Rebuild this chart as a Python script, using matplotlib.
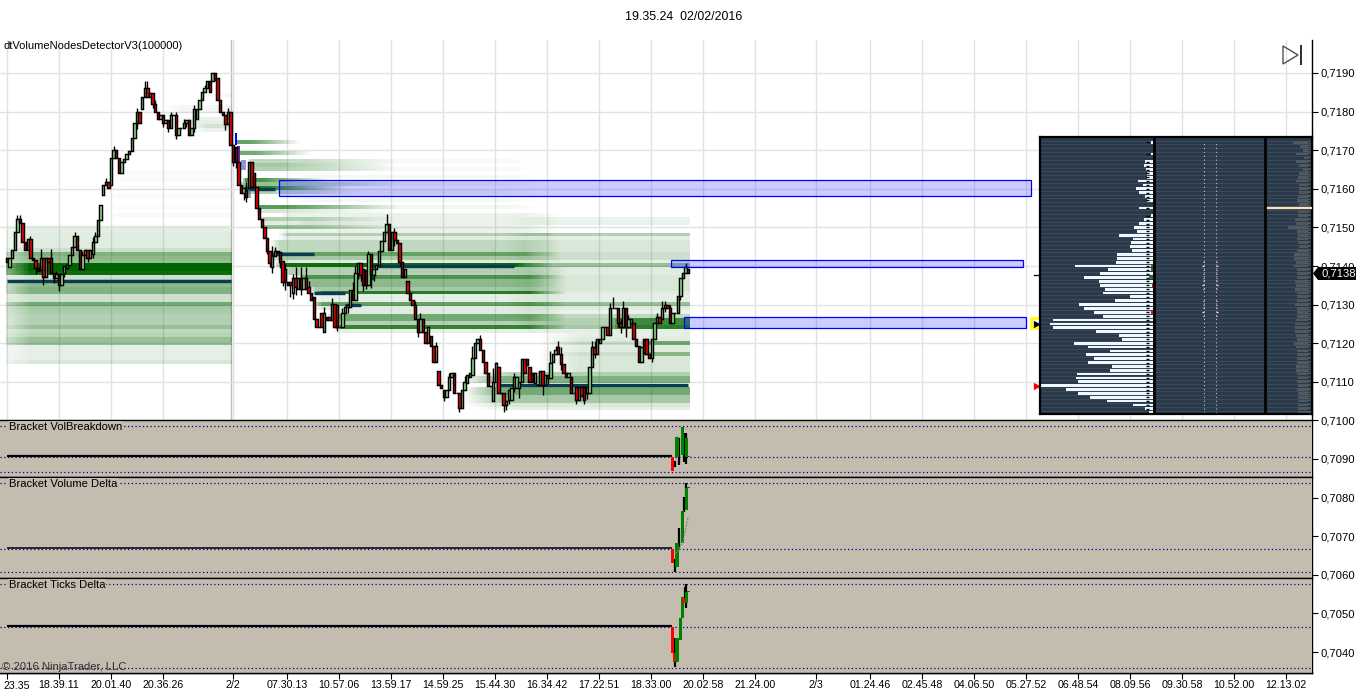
import numpy as np
import matplotlib
matplotlib.use("Agg")
import matplotlib.pyplot as plt
from matplotlib.patches import Polygon, Rectangle

plt.rcParams["font.family"] = ["Liberation Sans", "DejaVu Sans"]

W, H = 1366, 700

# candles, prices in pips (7138 = 0,7138)
opens = [
    7142.0, 7139.8, 7142.0, 7144.1, 7148.9, 7152.2, 7151.1, 7146.3, 7144.1, 7146.9,
    7142.0, 7141.6, 7139.4, 7138.9, 7142.0, 7137.2, 7142.0, 7142.0, 7138.1, 7137.0,
    7137.8, 7135.1, 7138.1, 7139.4, 7140.3, 7142.9, 7145.0, 7147.9, 7144.1, 7139.1,
    7142.9, 7144.1, 7142.0, 7143.0, 7146.1, 7147.9, 7151.9, 7158.4, 7161.0, 7161.8,
    7161.0, 7167.9, 7170.1, 7167.9, 7164.0, 7166.9, 7167.7, 7168.9, 7169.8, 7173.1,
    7177.0, 7180.0, 7180.8, 7183.9, 7186.0, 7183.9, 7184.7, 7181.9, 7180.0, 7178.0,
    7179.0, 7177.0, 7177.8, 7175.8, 7179.0, 7179.0, 7174.0, 7175.8, 7175.8, 7177.0,
    7177.8, 7174.0, 7175.8, 7178.0, 7180.8, 7183.0, 7185.0, 7186.0, 7187.8, 7187.8,
    7190.0, 7188.8, 7183.0, 7180.0, 7179.1, 7176.7, 7180.0, 7171.4, 7170.9, 7167.0,
    7161.0, 7159.0, 7159.7, 7160.1, 7167.0, 7164.0, 7160.4, 7155.0, 7152.1, 7150.2,
    7147.2, 7144.0, 7139.8, 7142.6, 7144.0, 7143.7, 7141.4, 7139.1, 7135.9, 7135.9,
    7132.9, 7136.8, 7134.0, 7136.8, 7134.0, 7136.8, 7134.6, 7132.9, 7132.0, 7126.2,
    7124.3, 7127.9, 7123.0, 7126.9, 7126.9, 7126.0, 7130.1, 7129.9, 7124.1, 7124.3,
    7127.7, 7129.4, 7129.5, 7133.8, 7131.2, 7138.1, 7140.9, 7139.1, 7138.9, 7135.1,
    7143.0, 7137.7, 7139.1, 7140.3, 7144.0, 7146.6, 7148.9, 7151.0, 7144.1, 7148.9,
    7146.7, 7146.0, 7141.1, 7137.2, 7136.2, 7132.9, 7131.2, 7130.0, 7126.2, 7123.0,
    7126.2, 7123.0, 7120.0, 7121.9, 7119.3, 7115.0, 7112.9, 7109.2, 7108.0, 7106.0,
    7108.0, 7111.3, 7112.2, 7107.0, 7107.0, 7103.1, 7107.9, 7109.8, 7111.3, 7111.7,
    7116.2, 7120.0, 7121.1, 7118.2, 7115.0, 7112.2, 7109.0, 7105.0, 7110.0, 7113.9,
    7107.0, 7107.0, 7104.1, 7105.3, 7105.3, 7108.3, 7108.3, 7108.3, 7110.0, 7116.0,
    7116.0, 7113.9, 7112.2, 7109.6, 7109.2, 7109.2, 7112.9, 7109.2, 7111.7, 7111.0,
    7115.0, 7117.1, 7119.1, 7117.1, 7114.5, 7112.2, 7111.2, 7111.2, 7107.0, 7108.6,
    7105.3, 7108.6, 7108.6, 7107.0, 7107.0, 7113.9, 7119.1, 7117.2, 7120.0, 7121.0,
    7124.1, 7124.1, 7122.1, 7129.0, 7129.0, 7129.0, 7125.2, 7124.1, 7129.0, 7124.1,
    7125.2, 7125.2, 7121.0, 7119.3, 7115.0, 7121.0, 7121.0, 7117.2, 7116.1, 7121.0,
    7125.2, 7126.9, 7126.2, 7129.0, 7129.9, 7129.0, 7125.2, 7127.9, 7127.9, 7132.2,
    7137.0, 7138.1, 7139.1,
]
closes = [
    7141.0, 7142.0, 7144.1, 7148.9, 7152.2, 7151.1, 7146.3, 7144.1, 7146.9, 7142.0,
    7141.6, 7139.4, 7138.8, 7142.0, 7137.2, 7142.0, 7141.0, 7138.1, 7137.0, 7137.8,
    7135.1, 7137.9, 7140.0, 7140.3, 7142.9, 7145.0, 7147.9, 7144.1, 7139.1, 7142.9,
    7144.1, 7142.0, 7144.1, 7146.1, 7147.9, 7151.9, 7155.8, 7161.0, 7161.8, 7160.1,
    7167.9, 7170.1, 7167.9, 7164.0, 7166.9, 7167.7, 7168.9, 7169.8, 7173.1, 7177.0,
    7180.0, 7177.0, 7183.9, 7186.0, 7183.9, 7184.7, 7181.9, 7180.0, 7178.0, 7179.0,
    7177.0, 7177.8, 7175.8, 7179.0, 7179.1, 7174.0, 7175.8, 7175.8, 7177.0, 7177.8,
    7174.0, 7175.8, 7180.8, 7180.8, 7183.0, 7185.0, 7186.0, 7187.8, 7185.0, 7190.0,
    7188.2, 7183.0, 7180.0, 7179.1, 7176.7, 7180.0, 7171.4, 7167.0, 7167.0, 7161.0,
    7159.0, 7160.1, 7158.0, 7167.0, 7160.4, 7160.4, 7155.0, 7152.1, 7150.2, 7147.2,
    7144.0, 7140.7, 7142.6, 7144.0, 7143.5, 7141.1, 7135.9, 7135.9, 7135.0, 7135.0,
    7136.8, 7134.6, 7136.8, 7134.0, 7136.8, 7134.0, 7132.9, 7131.2, 7126.2, 7124.3,
    7124.3, 7124.3, 7127.9, 7126.0, 7126.0, 7130.1, 7124.3, 7124.1, 7124.3, 7127.7,
    7129.4, 7129.9, 7133.8, 7131.2, 7138.1, 7140.9, 7137.7, 7135.1, 7135.1, 7143.0,
    7137.7, 7139.1, 7140.3, 7144.0, 7146.6, 7148.9, 7151.0, 7144.1, 7148.9, 7146.7,
    7146.0, 7141.1, 7137.2, 7139.1, 7132.9, 7131.2, 7130.0, 7126.2, 7123.0, 7126.2,
    7123.0, 7120.0, 7124.3, 7119.3, 7115.0, 7119.3, 7109.2, 7108.3, 7106.0, 7108.0,
    7111.3, 7112.2, 7107.0, 7107.0, 7103.1, 7107.9, 7110.0, 7111.7, 7112.2, 7116.2,
    7120.0, 7121.1, 7118.2, 7115.0, 7112.2, 7109.0, 7109.0, 7110.0, 7115.0, 7107.0,
    7107.0, 7104.1, 7105.0, 7107.9, 7108.3, 7111.3, 7111.3, 7110.0, 7116.0, 7112.2,
    7114.3, 7110.0, 7110.0, 7112.2, 7109.2, 7112.9, 7109.2, 7111.7, 7111.0, 7115.0,
    7117.1, 7118.2, 7117.1, 7114.5, 7112.2, 7111.2, 7112.4, 7107.0, 7107.0, 7105.3,
    7108.6, 7106.2, 7105.3, 7108.6, 7113.9, 7119.1, 7117.2, 7121.0, 7121.0, 7124.1,
    7124.1, 7122.1, 7129.0, 7129.0, 7129.0, 7125.2, 7124.1, 7129.0, 7124.1, 7126.2,
    7126.2, 7121.0, 7119.3, 7115.0, 7119.1, 7117.4, 7117.2, 7116.1, 7121.0, 7125.2,
    7126.9, 7125.2, 7129.0, 7129.9, 7129.0, 7125.2, 7127.9, 7127.9, 7132.2, 7137.0,
    7138.1, 7139.8, 7138.1,
]
# wicks beyond the body, in pips, only where one is visible
wick_up = {4: 1, 5: 1, 9: 1, 13: 2.5, 17: 2.5, 19: 1, 26: 1, 29: 1, 33: 1.5, 34: 1, 38: 1, 41: 1,
           50: 1, 53: 2, 54: 2, 57: 1, 63: 1, 65: 1, 68: 1, 72: 1, 76: 1, 85: 1, 92: 2, 102: 2.5,
           103: 1, 107: 1.5, 110: 1, 111: 3, 113: 3, 115: 3, 116: 1.5, 122: 1.5, 125: 1.5, 129: 1.5,
           133: 2, 134: 2, 139: 1, 146: 2.5, 149: 1, 157: 1, 159: 1.5, 165: 1, 170: 1, 176: 1.5,
           179: 3, 182: 1, 187: 3.5, 195: 1, 209: 3, 211: 1, 212: 1.5, 213: 2, 225: 1.5, 226: 1.5,
           232: 1.5, 233: 3, 236: 1, 237: 2, 239: 1, 250: 1, 252: 2, 253: 1, 255: 1, 261: 1}
wick_down = {11: 1.5, 14: 2, 18: 1.5, 20: 1.5, 22: 1, 31: 1, 33: 1, 50: 1.5, 56: 1, 60: 1, 62: 1,
             65: 1, 69: 1, 72: 1, 84: 1.5, 87: 1, 88: 1.5, 91: 2, 92: 1.5, 100: 1, 101: 1, 102: 1.5,
             105: 1.5, 106: 1, 107: 2, 109: 3, 110: 1.5, 111: 2, 113: 1.5, 127: 1, 131: 1.5, 135: 1.5,
             136: 1.5, 137: 1.5, 138: 1, 140: 3.5, 141: 1.5, 149: 1.5, 151: 1, 158: 1.5, 168: 1,
             174: 1, 191: 2, 192: 1.5, 193: 1, 195: 1, 197: 2.5, 206: 2.5, 208: 1.5, 213: 1.5,
             219: 1, 222: 1, 223: 1.5, 226: 1, 235: 1, 236: 1.5, 238: 2.5, 248: 1, 253: 1, 259: 1}

tick_bars = [0, 20, 40, 60, 86.9, 107.7, 127.7, 147.7, 167.7, 187.7, 207.7, 227.7, 247.7, 267.7,
             287.7, 311, 332, 352, 372, 392, 412, 432, 452, 472, 492]
tick_labels = ["", "18.39.11", "20.01.40", "20.36.26", "2/2", "07.30.13", "10.57.06", "13.59.17",
               "14.59.25", "15.44.30", "16.34.42", "17.22.51", "18.33.00", "20.02.58", "21.24.00",
               "2/3", "01.24.46", "02.45.48", "04.06.50", "05.27.52", "06.48.54", "08.09.56",
               "09.30.58", "10.52.00", "12.13.02"]
price_ticks = list(range(7040, 7200, 10))

# volume nodes: session before 2/2
seg_a_pips = [7150, 7149, 7148, 7147, 7146, 7145, 7144, 7143, 7142, 7141, 7140, 7139, 7138, 7137,
              7136, 7135, 7134, 7133, 7132, 7131, 7130, 7129, 7128, 7127, 7126, 7125, 7124, 7123,
              7122, 7121, 7120, 7119, 7118, 7117, 7116, 7115]
seg_a_levels = [.06, .1, .12, .12, .12, .12, .2, .5, .45, .42, 1, 1, .95, .2, .3, .45, .5, .5, .2,
                .2, .55, .35, .33, .3, .3, .3, .4, .25, .28, .4, .4, .1, .1, .1, .1, .15]
# faint rows high up
seg_a2_pips = [7184, 7181, 7180, 7178, 7177, 7176, 7175, 7164, 7163, 7162, 7160, 7158, 7155, 7153]
seg_a2_levels = [.04, .05, .05, .08, .1, .18, .08, .025, .02, .025, .02, .025, .02, .03]
seg_a2_starts = [75, 60, 60, 65, 65, 70, 70, 38, 38, 38, 38, 36, 36, 36]

# short nodes right after the break, they die out quickly
seg_top_pips = [7172, 7169, 7167, 7166, 7165, 7162, 7161, 7160, 7159, 7155, 7154, 7152, 7151, 7150]
seg_top_levels = [.6, .55, .25, .35, .3, .7, .4, .85, .3, .65, .15, .3, .12, .4]
seg_top_starts = [88, 89, 93, 93, 93, 91, 90, 91, 91, 96, 96, 98, 98, 98]
seg_top_ends = [112, 116, 150, 150, 150, 122, 150, 130, 135, 150, 150, 150, 150, 150]

# nodes of the 2/2 session, they fade out to the right
seg_b_pips = [7148, 7147, 7146, 7145, 7144, 7143, 7142, 7141, 7140, 7139, 7138, 7137, 7136, 7135,
              7134, 7133, 7132, 7131, 7130, 7129, 7128, 7127, 7126, 7125, 7124, 7123,
              7153, 7149, 7152, 7151, 7150, 7155, 7157, 7159, 7161, 7163, 7165, 7167]
seg_b_levels = [.3, .12, .25, .25, .25, .6, .35, .12, .95, .3, .3, .7, .45, .45,
                .35, .85, .1, .1, .6, .12, .12, .55, .55, .3, .8, .1,
                .08, .08, .08, .08, .08, .05, .04, .04, .04, .04, .03, .03]
seg_b_starts = [105, 105, 102, 102, 102, 102, 102, 102, 104, 106, 106, 112, 112, 114,
                116, 118, 118, 118, 118, 118, 124, 124, 126, 126, 126, 126,
                105, 105, 112, 112, 112, 112, 112, 112, 112, 112, 112, 112]
seg_b_ends = [212, 212, 212, 212, 212, 212, 212, 212, 209, 214, 214, 214, 214, 214,
              214, 214, 214, 214, 214, 214, 214, 214, 214, 214, 214, 214,
              212, 212, 212, 212, 212, 205, 205, 205, 205, 205, 205, 205]

# nodes that run up to the last bar
seg_c_pips = [7152, 7151, 7148, 7147, 7146, 7145, 7144, 7143, 7142, 7141, 7140, 7139, 7138, 7137,
              7136, 7135, 7134, 7133, 7132, 7131, 7130, 7129, 7128, 7127, 7126, 7125, 7124, 7123,
              7122, 7121, 7120, 7119, 7118, 7117, 7116, 7115, 7114, 7113, 7112, 7111, 7110, 7108,
              7107, 7106, 7105, 7104, 7103]
seg_c_levels = [.08, .08, .3, .1, .15, .15, .15, .2, .2, .1, .4, .12, .12, .15, .15, .15, .15, .12,
                .1, .1, .4, .12, .08, .25, .3, .3, .35, .1,
                .1, .12, .2, .12, .12, .2, .15, .15, .15, .15, .3, .5, .5, .55, .55, .35, .35, .15, .1]
seg_c_starts = [192, 192, 192, 192, 192, 192, 192, 192, 192, 192, 190, 192, 192, 192, 192, 192, 192, 192,
                192, 192, 192, 192, 192, 192, 196, 196, 196, 200,
                205, 205, 205, 205, 205, 205, 205, 205, 205, 205, 180, 176, 176, 176, 176, 176, 176, 176, 180]
# strong nodes of the last hour
seg_d_pips = [7126, 7125, 7124, 7120, 7117]
seg_d_levels = [.65, .65, .75, .45, .35]
seg_d_starts = [232, 232, 232, 244, 244]

# point of control lines: pips, first bar, last bar
poc_pips = [7136, 7160, 7143, 7133, 7130, 7137, 7140, 7109.2]
poc_starts = [0, 91, 102, 118, 130, 136, 140, 188]
poc_ends = [86, 103, 118, 130, 136, 141, 195, 262]

# zones: low, high, first bar, last bar
zone_low = [7158.1, 7139.7, 7123.9]
zone_high = [7162.3, 7141.5, 7126.8]
zone_start = [104.6, 255.4, 260.4]
zone_end = [393.8, 390.8, 391.9]

# depth ladder, one row per pip
ladder_pips = list(range(7172, 7101, -1))
ladder_volume = [2, 0, 0, 2, 0, 8, 9, 7, 6, 6, 15, 10, 17, 14, 8, 6, 0, 14, 0, 2, 9, 14, 19, 16, 34,
                 20, 22, 23, 21, 36, 36, 37, 78, 45, 53, 69, 54, 53, 48, 50, 23, 38, 74, 69, 59, 50,
                 100, 103, 100, 57, 34, 31, 79, 65, 43, 67, 59, 65, 41, 43, 76, 77, 75, 112, 87, 75,
                 63, 46, 20, 8, 4]
ladder_right = [19, 12, 9, 16, 8, 16, 13, 9, 13, 14, 16, 13, 13, 13, 14, 15, 13, 0, 14, 14, 17, 16,
                24, 15, 14, 15, 14, 13, 15, 18, 18, 16, 18, 15, 15, 15, 17, 16, 17, 15, 15, 15, 17,
                15, 15, 15, 16, 17, 17, 17, 16, 15, 18, 16, 15, 15, 15, 15, 16, 16, 15, 14, 15, 14,
                15, 14, 14, 14, 14, 14, 14]
ladder_mid_pips = [7141, 7140, 7139, 7138, 7137, 7136, 7135, 7134, 7131, 7130, 7129, 7128, 7127]
ladder_mid_width = [1, 2, 1, 1, 1, 1, 2, 1, 1, 1, 1, 2, 1]

# indicator panels, values in panel units
p1_x = [256, 257.7, 259.7, 261.3, 262.2]
p1_open = [0, 0, 2, 0, 0]
p1_close = [-14, 20, 30, 19, 1]
p1_wick_x = [256.8, 258.5, 260.4, 261]
p1_wick_hi = [-4, 19, 24, 24]
p1_wick_lo = [-10, -8, -5, -7]
p1_levels = [31, 0, -15]

p2_x = [256, 257.7, 259.7, 261.3, 262.2]
p2_open = [0, -18, 6, 39, 61]
p2_close = [-14, 6, 38, 61, 62]
p2_wick_x = [256.8, 258.5, 260.4, 261]
p2_wick_hi = [-10, 21, 52, 66]
p2_wick_lo = [-23, 1, 37, 39]
p2_levels = [66, 0, -23]
p2_trail_x = [257, 258.5, 260, 261, 262]
p2_trail_y = [-5, 0, 8, 20, 32]

p3_x = [256, 256.8, 257.7, 258.9, 259.9, 260.2, 261.3, 262.2]
p3_open = [0, -26, -35, -13, 9, 29, 24, 35]
p3_close = [-26, -35, -11, 9, 30, 24, 35, 36]
p3_wick_x = [256.8, 260.6, 261.2]
p3_wick_hi = [-11, 40, 43]
p3_wick_lo = [-40, 29, 19]
p3_levels = [43, 0, -41]


def px_axes(fig, x0, y0, x1, y1):
    return fig.add_axes([x0 / W, 1 - y1 / H, (x1 - x0) / W, (y1 - y0) / H])


def to_bar(px):
    return (px - 7) / 2.6


def to_price(py):
    return (7190 - (py - 73) / 3.86) / 10000


def add_bands(grid, pips, levels, starts, ends, fade_in, fade_out, first_pip):
    bars = np.arange(grid.shape[1])
    for p, lev, s, e in zip(pips, levels, starts, ends):
        # fade_out None means the band dies out over most of its length
        out = 0.8 * (e - s) if fade_out is None else fade_out
        env = np.clip((bars - s + 1) / fade_in, 0, 1) * np.clip((e - bars + 1) / out, 0, 1)
        row = int(p - first_pip)
        grid[row] = 1 - (1 - grid[row]) * (1 - lev * env)


def draw_panel(ax, xs, op, cl, wx, hi, lo, levels, thick):
    ax.set_facecolor("#c4bcae")
    ax.set_xlim(to_bar(0), to_bar(1312))
    ax.set_xticks([])
    ax.set_yticks([])
    for s in ("left", "right"):
        ax.spines[s].set_visible(False)
    ax.spines["top"].set_linewidth(1.0)
    ax.spines["bottom"].set_linewidth(1.0)
    for lv in levels:
        ax.axhline(lv, color="#000090", lw=0.9, ls=(0, (1, 2)), zorder=1)
    ax.plot([0, 255.6], [0.8, 0.8], color="black", lw=thick, solid_capstyle="butt", zorder=2)
    ax.vlines(wx, lo, hi, color="black", lw=1.6, zorder=3)
    for x, o, c in zip(xs, op, cl):
        col = "#ff0000" if c < o else "#008000"
        ax.bar(x, c - o, bottom=o, width=1.25, color=col, lw=0, zorder=4)


def main():
    fig = plt.figure(figsize=(W / 100, H / 100), dpi=100, facecolor="white")
    ax = px_axes(fig, 0, 40, 1312, 673)
    ax.set_zorder(1)

    o = np.array(opens)
    c = np.array(closes)
    bars = np.arange(len(c))

    # node bands as one image
    first_pip = 7100
    grid = np.zeros((100, len(c)))
    n_a = len(seg_a_pips)
    add_bands(grid, seg_a_pips, seg_a_levels, [-8] * n_a, [400] * n_a, 18, 1, first_pip)
    grid[:, 87:] = 0
    n_a2 = len(seg_a2_pips)
    add_bands(grid, seg_a2_pips, seg_a2_levels, seg_a2_starts, [86] * n_a2, 8, 1, first_pip)
    add_bands(grid, seg_top_pips, seg_top_levels, seg_top_starts, seg_top_ends, 2, None, first_pip)
    add_bands(grid, seg_b_pips, seg_b_levels, seg_b_starts, seg_b_ends, 4, 14, first_pip)
    n_c = len(seg_c_pips)
    add_bands(grid, seg_c_pips, seg_c_levels, seg_c_starts, [400] * n_c, 16, 1, first_pip)
    n_d = len(seg_d_pips)
    add_bands(grid, seg_d_pips, seg_d_levels, seg_d_starts, [400] * n_d, 4, 1, first_pip)
    rgba = np.zeros(grid.shape + (4,))
    rgba[..., 1] = 100 / 255
    rgba[..., 3] = grid
    ax.imshow(rgba, origin="lower", aspect="auto", interpolation="nearest", zorder=1,
              extent=(-0.5, len(c) - 0.5, (first_pip - 0.5) / 1e4, (first_pip + 99.5) / 1e4))

    for p, s, e in zip(poc_pips, poc_starts, poc_ends):
        ax.plot([s, e], [p / 1e4, p / 1e4], color="#0a3b50", lw=2.4, solid_capstyle="butt", zorder=2)

    # small blue marks right after the session break
    ax.add_patch(Rectangle((87.7, to_price(145)), 0.9, to_price(133) - to_price(145), color="#0000ff", lw=0, zorder=2))
    ax.add_patch(Rectangle((88.6, to_price(165)), 0.9, to_price(146) - to_price(165), color="#5a2a9a", lw=0, zorder=2))
    ax.add_patch(Rectangle((90, to_price(170)), 1.8, to_price(160) - to_price(170), color="#4050c0", alpha=0.6, lw=0, zorder=2))
    ax.add_patch(Rectangle((91, to_price(198)), 3, to_price(186) - to_price(198), color="#4a6aa8", alpha=0.6, lw=0, zorder=2))

    # candles
    hi = np.maximum(o, c) + np.array([wick_up.get(i, 0) for i in bars])
    lo = np.minimum(o, c) - np.array([wick_down.get(i, 0) for i in bars])
    ax.vlines(bars, lo / 1e4, hi / 1e4, color="black", lw=1.0, zorder=3)
    colors = ["#90ee90" if cc >= oo else "#ff0000" for oo, cc in zip(o, c)]
    ax.bar(bars, (c - o) / 1e4, bottom=o / 1e4, width=0.88, color=colors, edgecolor="black", lw=1.05, zorder=3.5)

    for lw_, hw, s, e in zip(zone_low, zone_high, zone_start, zone_end):
        ax.add_patch(Rectangle((s, lw_ / 1e4), e - s, (hw - lw_) / 1e4, facecolor=(0, 0, 1, 0.2),
                               edgecolor="#0000ff", lw=0.9, zorder=4))

    # grid, session line, axes
    ax.set_xticks(tick_bars)
    ax.set_xticklabels(tick_labels, fontsize=7.7)
    ax.set_yticks([p / 1e4 for p in price_ticks])
    ax.set_yticklabels(["0,%d" % p for p in price_ticks], fontsize=8.1)
    ax.yaxis.tick_right()
    ax.grid(True, color="#e2e2e2", lw=1.0, zorder=0)
    ax.set_axisbelow(True)
    ax.axvline(to_bar(231), color="#bdbdbd", lw=1.0, zorder=0.5)
    ax.tick_params(axis="y", length=4.3, width=0.8, color="black", pad=2)
    ax.tick_params(axis="x", length=4.6, width=0.8, color="black", pad=0.5)
    for s in ("top", "left"):
        ax.spines[s].set_visible(False)
    ax.spines["right"].set_linewidth(1.0)
    ax.spines["bottom"].set_linewidth(1.0)
    ax.set_xlim(to_bar(0), to_bar(1312))
    ax.set_ylim(to_price(673), to_price(40))

    # markers left of the ladder
    ax.plot([to_bar(1037), to_bar(1031), to_bar(1031), to_bar(1037)],
            [to_price(318.5), to_price(318.5), to_price(328.5), to_price(328.5)], color="#ffff00", lw=2.0, zorder=5)
    ax.scatter([to_bar(1036.5)], [to_price(323.5)], marker=">", s=28, color="black", lw=0, zorder=6)
    ax.scatter([to_bar(1036.5)], [to_price(385.5)], marker=">", s=28, color="#ff0000", lw=0, zorder=6)
    ax.plot([to_bar(1034), to_bar(1040)], [to_price(275), to_price(275)], color="black", lw=0.9, zorder=5)

    # depth ladder
    lad = px_axes(fig, 1040, 137, 1312, 414)
    lad.set_zorder(3)
    lad.set_facecolor("#2b3a4b")
    lad.set_xlim(0, 272)
    lad.set_ylim(to_price(414), to_price(137))
    lad.set_xticks([])
    lad.set_yticks([])
    lp = np.array(ladder_pips) / 1e4
    lad.hlines(lp + 0.00005, 0, 272, color="#3a4a5b", lw=0.8, zorder=1)
    vol = np.array(ladder_volume)
    lad.barh(lp, vol, left=113 - vol, height=0.000072, color="#f0f8ff", lw=0, zorder=2)
    lad.hlines(lp[vol > 0], 106, 109, color="black", lw=1.0, zorder=3)
    lad.barh([0.7140, 0.7139, 0.7137], [2, 2, 4], left=[111, 111, 109], height=0.000072, color="#1e7a1e", lw=0, zorder=3)
    lad.barh([0.7135, 0.7128], [1.5, 2], left=[111.5, 111], height=0.000072, color="#ff0000", lw=0, zorder=3)
    lad.vlines([164, 176], lp.min(), lp.max(), color=["#9fd8d8", "#e8a8b8"], lw=0.8, ls=(0, (1, 2.5)), zorder=2)
    mid = np.array(ladder_mid_pips) / 1e4
    wid = np.array(ladder_mid_width)
    lad.hlines(mid, 164 - wid, 164, color="#e8f4f4", lw=0.9, zorder=3)
    lad.hlines(mid, 176, 176 + wid, color="#f4e8e8", lw=0.9, zorder=3)
    right = np.array(ladder_right)
    lad.barh(lp, right, left=272 - right, height=0.000072, color="#4f5a60", lw=0, zorder=2)
    lad.hlines(lp[right > 0], 268, 270, color="#1c2530", lw=0.8, zorder=3)
    lad.plot([226, 272], [0.7155, 0.7155], color="#ffe2b4", lw=1.6, solid_capstyle="butt", zorder=4)
    lad.axvline(114, color="black", lw=2.0, zorder=5)
    lad.axvline(225, color="black", lw=2.0, zorder=5)
    for s in lad.spines.values():
        s.set_linewidth(1.6)

    # indicator panels, one unit is one pixel
    p1 = px_axes(fig, 0, 420, 1312, 477)
    p1.set_zorder(2)
    p1.set_ylim(-20, 37)
    draw_panel(p1, p1_x, p1_open, p1_close, p1_wick_x, p1_wick_hi, p1_wick_lo, p1_levels, 1.6)
    p2 = px_axes(fig, 0, 477, 1312, 578)
    p2.set_zorder(2)
    p2.set_ylim(-29, 72)
    draw_panel(p2, p2_x, p2_open, p2_close, p2_wick_x, p2_wick_hi, p2_wick_lo, p2_levels, 1.1)
    p2.plot(p2_trail_x, p2_trail_y, color="#8a8070", lw=0.8, ls=(0, (2, 1)), zorder=5)
    p3 = px_axes(fig, 0, 578, 1312, 673)
    p3.set_zorder(2)
    p3.set_ylim(-46, 49)
    draw_panel(p3, p3_x, p3_open, p3_close, p3_wick_x, p3_wick_hi, p3_wick_lo, p3_levels, 1.6)

    box = dict(facecolor="#c4bcae", edgecolor="none", pad=0.6)
    fig.text(9 / W, 1 - 427 / H, "Bracket VolBreakdown", fontsize=8.1, va="center", zorder=10, bbox=box)
    fig.text(9 / W, 1 - 484 / H, "Bracket Volume Delta", fontsize=8.1, va="center", zorder=10, bbox=box)
    fig.text(9 / W, 1 - 585 / H, "Bracket Ticks Delta", fontsize=8.1, va="center", zorder=10, bbox=box)
    fig.text(2 / W, 1 - 667 / H, "\u00a9 2016 NinjaTrader, LLC", fontsize=8.1, color="#303030", va="center", zorder=10)

    # texts and bits of the window
    fig.text(683.5 / W, 1 - 17 / H, "19.35.24  02/02/2016", fontsize=8.9, ha="center", va="center")
    fig.text(3 / W, 1 - 46 / H, "dtVolumeNodesDetectorV3(100000)", fontsize=8.0, va="center", zorder=10)
    fig.text(3 / W, 1 - 686 / H, "23.35", fontsize=7.7, va="center", zorder=10)

    def to_fig(pts):
        return [(x / W, 1 - y / H) for x, y in pts]

    tag = Polygon(to_fig([(1313, 273.5), (1318, 267), (1356, 267), (1356, 280), (1318, 280)]),
                  transform=fig.transFigure, facecolor="black", edgecolor="none", zorder=10)
    fig.add_artist(tag)
    fig.text(1321 / W, 1 - 273.5 / H, "0,7138", color="white", fontsize=8.1, va="center", zorder=11)
    icon = Polygon(to_fig([(1283, 46), (1298, 55), (1283, 64)]), transform=fig.transFigure,
                   facecolor="none", edgecolor="#505050", lw=1.0, zorder=10)
    fig.add_artist(icon)
    bar_icon = Rectangle((1300 / W, 1 - 65 / H), 2 / W, 20 / H, transform=fig.transFigure,
                         facecolor="#303030", edgecolor="none", zorder=10)
    fig.add_artist(bar_icon)

    fig.savefig("out.png", dpi=100)
    plt.close(fig)


if __name__ == "__main__":
    main()
